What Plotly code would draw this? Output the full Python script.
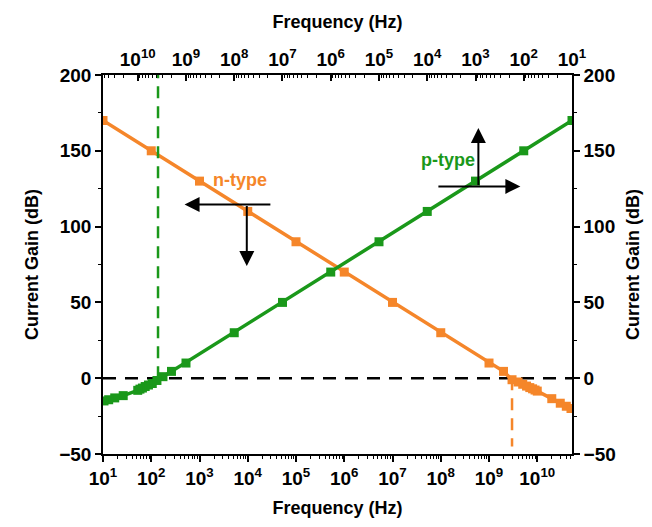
import plotly.graph_objects as go

# ---- data ----
n_freq = [1e1, 1e2, 1e3, 1e4, 1e5, 1e6, 1e7, 1e8, 1e9, 2e9, 3e9, 4e9, 5e9, 6e9, 7e9, 8e9, 9e9,
          1e10, 2e10, 3e10, 4e10, 5e10]
n_gain = [170, 150, 130, 110, 90, 70, 50, 30, 10, 4.5, -1, -2.5, -4, -5.2, -6.2, -7, -7.8,
          -8.5, -13.5, -16.5, -18.5, -20]

p_freq = [1e1, 1e2, 1e3, 1e4, 1e5, 1e6, 1e7, 1e8, 1e9, 2e9, 3e9, 4e9, 5e9, 6e9, 7e9, 8e9, 9e9,
          1e10, 2e10, 3e10, 4e10, 5e10]
p_gain = [170, 150, 130, 110, 90, 70, 50, 30, 10, 4.5, 1, -1.5, -3.5, -4.5, -5.5, -6.5, -7.2,
          -8, -11.5, -13, -14.2, -15]

n_cross = 3.0e9   # bottom-axis frequency of n-type 0 dB
p_cross = 3.8e9   # top-axis frequency of p-type 0 dB

x_ticks = [10 ** k for k in range(1, 11)]
x_ticktext = ["10<sup>%d</sup>" % k for k in range(1, 11)]
x_minor = [m * 10 ** k for k in range(1, 11) for m in range(2, 10)]
y_ticks = [-50, 0, 50, 100, 150, 200]

ORANGE = "#F5862A"
GREEN = "#1A981A"
FONT = "Liberation Sans, Arial, sans-serif"
LOGMIN, LOGMAX = 1, 10.72

fig = go.Figure()

# zero line
fig.add_trace(go.Scatter(x=[10 ** LOGMIN, 10 ** LOGMAX], y=[0, 0], mode="lines",
                         line=dict(color="black", width=2.5, dash="13px,9px"),
                         xaxis="x", yaxis="y", showlegend=False, hoverinfo="skip"))
# crossing markers (dashed)
fig.add_trace(go.Scatter(x=[n_cross, n_cross], y=[0, -45], mode="lines",
                         line=dict(color=ORANGE, width=2.5, dash="12px,8px"),
                         xaxis="x", yaxis="y", showlegend=False, hoverinfo="skip"))
fig.add_trace(go.Scatter(x=[p_cross, p_cross], y=[0, 200], mode="lines",
                         line=dict(color=GREEN, width=2.5, dash="12px,8px"),
                         xaxis="x2", yaxis="y2", showlegend=False, hoverinfo="skip"))

fig.add_trace(go.Scatter(x=n_freq, y=n_gain, mode="lines+markers", name="n-type",
                         line=dict(color=ORANGE, width=3.5),
                         marker=dict(symbol="square", size=9, color=ORANGE),
                         xaxis="x", yaxis="y", showlegend=False))
fig.add_trace(go.Scatter(x=p_freq, y=p_gain, mode="lines+markers", name="p-type",
                         line=dict(color=GREEN, width=3.5),
                         marker=dict(symbol="square", size=9, color=GREEN),
                         xaxis="x2", yaxis="y2", showlegend=False))

tickfont = dict(family=FONT, size=19, color="black", weight="bold")
titlefont = dict(family=FONT, size=18, color="black", weight="bold")

common_x = dict(type="log", showgrid=False, zeroline=False, showline=True,
                linecolor="black", linewidth=1.5, tickvals=x_ticks, ticktext=x_ticktext,
                tickfont=tickfont, ticklen=6, tickwidth=1.5, tickcolor="black",
                minor=dict(tickvals=x_minor, ticklen=3, tickwidth=1, tickcolor="black"))
common_y = dict(range=[-50, 200], tickvals=y_ticks, showgrid=False, zeroline=False,
                showline=True, linecolor="black", linewidth=1.5, tickfont=tickfont,
                ticks="outside", ticklen=6, tickwidth=1.5, tickcolor="black",
                minor=dict(dtick=25, ticks="outside", ticklen=3, tickwidth=1.2, tickcolor="black"))

fig.update_layout(
    width=652, height=527,
    margin=dict(l=103, r=77, t=75, b=72),
    paper_bgcolor="white", plot_bgcolor="white",
    xaxis=dict(common_x, range=[LOGMIN, LOGMAX], ticks="outside",
               minor=dict(common_x["minor"], ticks="outside"),
               title=dict(text="Frequency (Hz)", font=titlefont, standoff=14)),
    xaxis2=dict(common_x, range=[LOGMAX, LOGMIN], overlaying="x", side="top", ticks="inside",
                minor=dict(common_x["minor"], ticks="inside"),
                title=dict(text="Frequency (Hz)", font=titlefont, standoff=12)),
    yaxis=dict(common_y, title=dict(text="Current Gain (dB)", font=titlefont, standoff=16)),
    yaxis2=dict(common_y, overlaying="y", side="right",
                title=dict(text="Current Gain (dB)", font=titlefont, standoff=12)),
    font=dict(family=FONT),
)

arrow = dict(showarrow=True, arrowhead=2, arrowsize=1.5, arrowwidth=2, arrowcolor="black",
             text="", xref="x", yref="y", axref="x", ayref="y")
fig.add_annotation(arrow, x=2.69, y=114.5, ax=4.5, ay=114.5)
fig.add_annotation(arrow, x=3.98, y=74, ax=3.98, ay=114.5)
fig.add_annotation(arrow, x=9.65, y=126.5, ax=7.92, ay=126.5)
fig.add_annotation(arrow, x=8.78, y=165, ax=8.78, ay=126.5)

fig.add_annotation(x=3.83, y=131, xref="x", yref="y", text="n-type", showarrow=False,
                   font=dict(family=FONT, size=18, color=ORANGE, weight="bold"))
fig.add_annotation(x=8.15, y=144, xref="x", yref="y", text="p-type", showarrow=False,
                   font=dict(family=FONT, size=18, color=GREEN, weight="bold"))

fig.write_html("out.html")
